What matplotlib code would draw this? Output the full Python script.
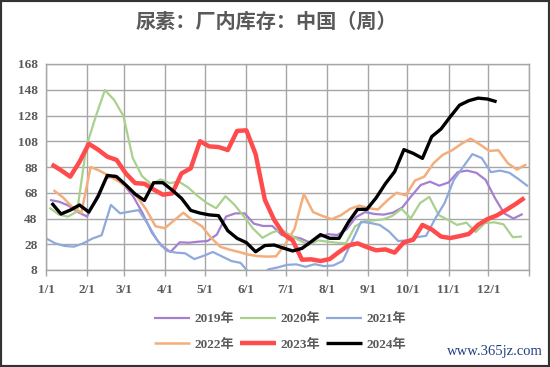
import matplotlib
matplotlib.use("Agg")
import matplotlib.pyplot as plt
from matplotlib.patches import Rectangle
import numpy as np

# ---------------- data (weekly values) ----------------
series_names = ["2019年", "2020年", "2021年", "2022年", "2023年", "2024年"]
# first-week day-of-year for each series
start_days = [3.0, 2.5, 0.0, 5.7, 4.3, 4.3]

v2019 = [62.4, 61, 58, 53, 49.5, 64, 79, 81.5, 74, 65, 52, 37, 27, 22, 29.5, 29.2,
         30, 30.5, 35.5, 49.5, 52, 52, 44, 42.2, 42.2, 35.2, 34.2, 32.6, 29.5, 33.5,
         35.8, 35.2, 39.5, 49, 53, 51.5, 51, 52.5, 56.5, 65.5, 74, 76.6, 73.5, 76,
         84, 85.2, 83.5, 78, 64, 52, 48, 51.5]
v2020 = [56.4, 51.2, 49.4, 53.5, 104, 127, 147.8, 140, 127.6, 95, 81, 74.5, 78.4,
         75.5, 76.6, 72, 65.5, 60, 56, 65.3, 58.5, 49.5, 40, 33, 37, 39.5, 35, 31,
         27.5, 31, 30, 29.2, 28.7, 42, 46, 46.5, 47.3, 50, 55.5, 48.1, 60, 64.8,
         50.7, 47, 43, 44.8, 37.5, 44.5, 45, 43.5, 33.5, 34]
v2021 = [32.6, 28.7, 26.7, 26.1, 28.7, 32.4, 35, 58.5, 52, 53.3, 54.5, 43.5, 31,
         23, 21.5, 21, 16.5, 19, 22, 18.5, 15, 13.5, 5, 3, 8.5, 10, 12, 12.4, 10.5,
         12.5, 11, 11.5, 15, 30, 45.5, 44.5, 43, 38, 30.5, 31, 33.5, 34.5, 48, 60,
         78, 88, 98, 95, 84, 85.2, 83.5, 78.5, 73]
v2022 = [70, 64.5, 57, 52.5, 88, 85, 81, 77, 72, 65, 55, 42, 40.5, 46.5, 52.5,
         46.5, 42, 33, 26, 23.8, 22, 20, 18.8, 18.4, 18.6, 28, 40, 67, 53, 50, 47.5,
         50.5, 55.5, 58, 56, 55, 62, 68, 66, 77.5, 80.5, 91, 97.5, 101, 106, 110,
         105.5, 100.5, 101, 91, 86, 90]
v2023 = [90, 85.5, 80.5, 92, 106, 101.5, 96, 93.5, 83, 75.5, 75, 70.5, 66.5, 67.5,
         83, 87, 108, 104, 103.5, 101.2, 116, 116.5, 98, 62.5, 47, 36, 31, 16, 16.3,
         15, 16.5, 22, 27, 28.7, 25.8, 23.3, 24, 21.5, 29.5, 31.5, 43, 39.5, 34,
         32.8, 34.3, 36, 43, 47.5, 50.3, 54.5, 59, 64]
v2024 = [60, 51.5, 54.5, 58.5, 53, 65, 81.5, 80.5, 74, 67, 62, 75.8, 75.8, 70,
         63.7, 54.3, 52.2, 50.8, 50.2, 38.5, 32.6, 29.3, 22.2, 27, 27.4, 25, 22.8,
         24.8, 30, 35.5, 32.6, 32.6, 45, 55.1, 55.1, 64, 75, 84.4, 101.5, 98.6,
         94.7, 111.6, 117.5, 127, 136, 139.5, 141.5, 140.8, 138.7]
all_values = [v2019, v2020, v2021, v2022, v2023, v2024]

month_labels = ["1/1", "2/1", "3/1", "4/1", "5/1", "6/1", "7/1", "8/1", "9/1",
                "10/1", "11/1", "12/1"]
month_days = [0, 31, 59, 90, 120, 151, 181, 212, 243, 273, 304, 334]
y_ticks = [8, 28, 48, 68, 88, 108, 128, 148, 168]

title_text = "尿素：厂内库存：中国（周）"
watermark = "www.365jz.com"

# ---------------- styling ----------------
colors = ["#A57FD0", "#A9D18E", "#8EAADC", "#F4AE7C", "#FF4B4B", "#000000"]
widths = [1.6, 1.6, 1.6, 1.8, 3.2, 2.4]
txt_color = "#595959"
grid_color = "#A6A6A6"

fig = plt.figure(figsize=(5.5, 3.67), dpi=100)
ax = fig.add_axes([46 / 550, 1 - 270 / 367, (529.3 - 46) / 550, (270 - 64) / 367])

handles = []
for name, sd, vals, c, lw in zip(series_names, start_days, all_values, colors, widths):
    x = sd + 7 * np.arange(len(vals))
    h, = ax.plot(x, vals, color=c, lw=lw, label=name, solid_joinstyle="round",
                 solid_capstyle="butt")
    handles.append(h)

ax.set_xlim(0, 365)
ax.set_ylim(8, 168)
ax.set_yticks(y_ticks)
ax.set_xticks(month_days + [365])
ax.set_xticklabels(month_labels + [""])
ax.grid(True, color=grid_color, lw=1.0)
ax.set_axisbelow(True)
for s in ax.spines.values():
    s.set_color(grid_color)
    s.set_linewidth(1.0)

ax.tick_params(axis="y", length=0, pad=6)
ax.tick_params(axis="x", length=4, color=grid_color, width=1.0, pad=6)
for lab in ax.get_xticklabels() + ax.get_yticklabels():
    lab.set_family("Liberation Serif")
    lab.set_fontweight("bold")
    lab.set_fontsize(9.5)
    lab.set_color(txt_color)

fig.text(0.485, 1 - 21 / 367, title_text, ha="center", va="center",
         family=["Noto Sans CJK SC"], fontweight="bold", fontsize=14.5,
         color=txt_color)

# row-major legend order (matplotlib fills columns first)
order = [0, 3, 1, 4, 2, 5]
leg = fig.legend([handles[i] for i in order], [series_names[i] for i in order],
                 loc="center", bbox_to_anchor=(280 / 550, 1 - 332 / 367), ncol=3,
                 frameon=False, handlelength=2.7, handletextpad=0.35,
                 columnspacing=0.45, labelspacing=1.0,
                 prop={"family": ["Liberation Serif", "Noto Sans CJK SC"],
                       "weight": "bold", "size": 9.5})
for t in leg.get_texts():
    t.set_color(txt_color)

fig.text(543 / 550, 1 - 351 / 367, watermark, ha="right", va="center",
         family="Liberation Serif", fontsize=10.5, color="#1F3F7F")

fig.add_artist(Rectangle((0, 0), 1, 1, transform=fig.transFigure, fill=False,
                         lw=3, ec="#333333"))

fig.savefig("out.png", dpi=100)
